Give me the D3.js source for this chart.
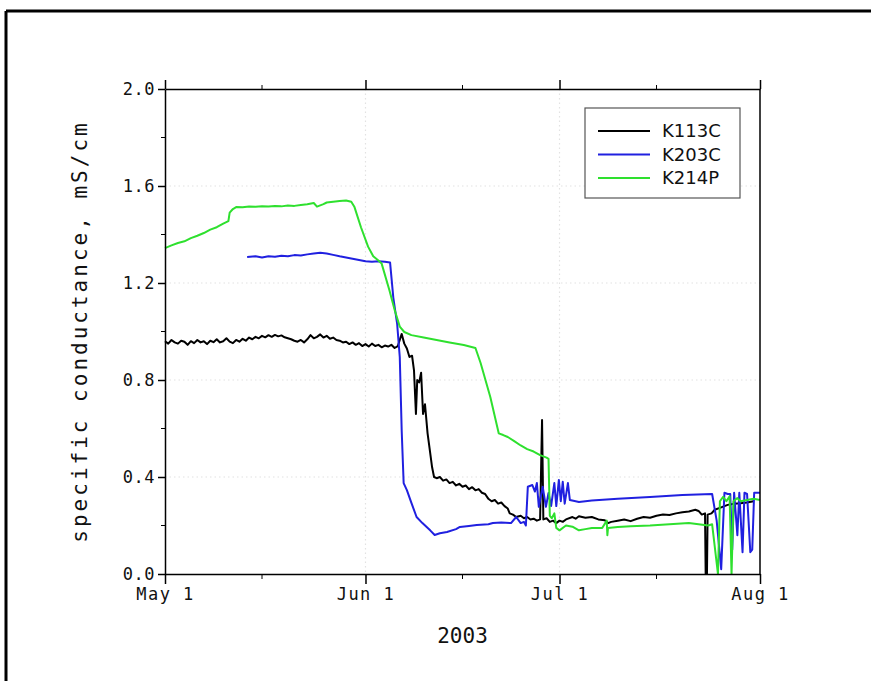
<!DOCTYPE html>
<html>
<head>
<meta charset="utf-8">
<script src="https://cdn.jsdelivr.net/npm/d3@7"></script>
<style>
  html, body { margin: 0; padding: 0; background: #fff; overflow: hidden; }
  svg { display: block; }
</style>
</head>
<body>
<svg id="chart" width="871" height="681"></svg>
<script>
// Specific conductance logger records, summer 2003.
// Each point: [days after May 1 (fractional), conductance in mS/cm]
const seriesNames = ["K113C", "K203C", "K214P"];
const seriesColors = ["#000000", "#2020e0", "#2ee02e"];

const k113c = [
  [0,0.96],[0.5,0.95],[1,0.965],[1.5,0.955],[2,0.95],[2.5,0.962],[3,0.958],[3.5,0.945],
  [4,0.96],[4.5,0.952],[5,0.965],[5.5,0.955],[6,0.96],[6.5,0.948],[7,0.962],[7.5,0.956],
  [8,0.968],[8.5,0.955],[9,0.96],[9.5,0.972],[10,0.958],[10.5,0.952],[11,0.965],[11.5,0.958],
  [12,0.97],[12.5,0.962],[13,0.975],[13.5,0.968],[14,0.978],[14.5,0.972],[15,0.982],[15.5,0.976],
  [16,0.985],[16.5,0.978],[17,0.986],[17.5,0.98],[18,0.984],[18.5,0.976],[19,0.972],[19.5,0.968],
  [20,0.962],[20.5,0.958],[21,0.965],[21.5,0.955],[22,0.968],[22.5,0.985],[23,0.972],[23.5,0.978],
  [24,0.988],[24.5,0.975],[25,0.982],[25.5,0.97],[26,0.975],[26.5,0.965],[27,0.962],[27.5,0.955],
  [28,0.958],[28.5,0.948],[29,0.955],[29.5,0.945],[30,0.952],[30.5,0.94],[31,0.948],[31.5,0.938],
  [32,0.95],[32.5,0.94],[33,0.945],[33.5,0.935],[34,0.942],[34.5,0.938],[35,0.945],[35.5,0.932],
  [36,0.94],[36.6,0.99],[37,0.95],[37.4,0.93],[37.8,0.895],[38.2,0.9],[38.5,0.84],[38.8,0.66],
  [39,0.8],[39.3,0.79],[39.6,0.83],[39.9,0.66],[40.2,0.7],[40.6,0.58],[40.9,0.52],[41.3,0.44],
  [41.6,0.4],[42,0.395],[42.5,0.4],[43,0.385],[43.5,0.39],[44,0.375],[44.5,0.38],[45,0.365],
  [45.5,0.372],[46,0.36],[46.5,0.365],[47,0.35],[47.5,0.358],[48,0.345],[48.5,0.35],[49,0.335],
  [49.5,0.33],[50,0.31],[50.5,0.3],[51,0.305],[51.5,0.29],[52,0.295],[52.5,0.28],[53,0.27],
  [53.3,0.25],[53.8,0.245],[54.3,0.235],[55,0.24],[55.5,0.23],[56,0.235],[56.5,0.225],[57,0.228],
  [57.5,0.22],[58,0.225],[58.3,0.635],[58.5,0.225],[59,0.23],[59.5,0.215],[60,0.22],[60.5,0.21],
  [61,0.22],[61.5,0.215],[62,0.225],[63,0.235],[63.5,0.228],[64,0.238],[65,0.232],[66,0.235],
  [67,0.225],[68,0.222],[68.5,0.21],[69,0.215],[70,0.22],[71,0.225],[72,0.218],[73,0.228],
  [74,0.235],[75,0.232],[76,0.24],[77,0.245],[78,0.243],[79,0.25],[80,0.255],[81,0.258],
  [82,0.265],[82.5,0.26],[83,0.245],[83.5,0.25],[83.6,0.0],[83.8,0.0],[83.9,0.245],[84.5,0.25],
  [85,0.265],[86,0.275],[87,0.285],[88,0.29],[89,0.292],[90,0.295],[91,0.3]
];

const k203c = [
  [12.7,1.307],[14,1.31],[15,1.305],[16,1.31],[17,1.308],[18,1.312],[19,1.31],[20,1.315],
  [21,1.313],[22,1.318],[23,1.322],[24,1.325],[25,1.322],[26,1.316],[27,1.31],[28,1.305],
  [29,1.3],[30,1.295],[31,1.29],[32,1.288],[33,1.29],[34,1.288],[34.8,1.285],[35.3,1.14],
  [35.9,1.03],[36.3,0.895],[36.6,0.59],[36.9,0.375],[37.4,0.346],[38.1,0.293],[38.9,0.235],
  [39.8,0.21],[41,0.18],[41.7,0.161],[42.5,0.168],[43.6,0.173],[45,0.185],[45.6,0.194],
  [47,0.198],[48.2,0.202],[50,0.205],[50.7,0.21],[52,0.212],[53.5,0.21],[54.3,0.235],[55,0.21],
  [55.5,0.215],[55.8,0.2],[56.1,0.36],[56.8,0.367],[57.2,0.34],[57.5,0.375],[57.8,0.277],
  [58.4,0.36],[58.9,0.277],[59.3,0.334],[59.7,0.28],[60.2,0.375],[60.5,0.28],[60.9,0.388],
  [61.2,0.3],[61.5,0.38],[61.8,0.29],[62.3,0.375],[62.6,0.305],[63.5,0.3],[64,0.297],
  [66,0.303],[70,0.31],[75,0.318],[80,0.326],[84.6,0.33],[85.3,0.22],[86,0.02],[86.5,0.335],
  [87,0.33],[87.4,0.33],[87.7,0.1],[88,0.335],[88.5,0.16],[88.8,0.335],[89.3,0.09],[89.6,0.335],
  [90,0.33],[90.5,0.09],[90.8,0.1],[91.1,0.335],[92,0.335]
];

const k214p = [
  [0,1.344],[1,1.355],[2,1.365],[3,1.372],[4,1.385],[5,1.395],[6,1.406],[7,1.42],
  [8,1.43],[9,1.445],[9.8,1.455],[10,1.49],[10.5,1.505],[11,1.513],[12,1.512],[13,1.515],
  [14,1.514],[15,1.516],[16,1.515],[17,1.518],[18,1.516],[19,1.52],[20,1.518],[21,1.522],
  [22,1.525],[23,1.53],[23.5,1.515],[24,1.52],[24.5,1.525],[25,1.532],[26,1.535],[27,1.538],
  [28,1.54],[28.8,1.535],[29.3,1.513],[30.3,1.43],[31.4,1.35],[32.2,1.31],[32.9,1.295],
  [33.5,1.28],[34.7,1.17],[35.5,1.09],[36.3,1.02],[37,0.998],[38.1,0.985],[40,0.975],
  [42,0.965],[44,0.955],[46.2,0.944],[47.4,0.936],[48,0.932],[48.8,0.87],[50.3,0.73],
  [51.6,0.58],[52.3,0.573],[53,0.565],[54,0.548],[55,0.53],[56,0.515],[57,0.505],[58,0.49],
  [59,0.48],[59.3,0.475],[59.5,0.24],[59.8,0.23],[60.2,0.25],[60.5,0.19],[61,0.18],[62,0.2],
  [63,0.195],[64,0.18],[65,0.185],[66,0.19],[67.6,0.19],[68.3,0.22],[68.4,0.16],[68.5,0.19],
  [70,0.194],[72,0.197],[75,0.2],[78,0.205],[81,0.21],[84,0.2],[84.6,0.205],[85.5,0.0],
  [85.8,0.3],[86.3,0.318],[86.8,0.3],[87.3,0.32],[87.6,0.0],[87.9,0.3],[88.5,0.313],[89,0.3],
  [90,0.305],[91,0.31],[92,0.305]
];

const seriesData = [k113c, k203c, k214p];

const yTicks = [0.0, 0.4, 0.8, 1.2, 1.6, 2.0];
const yMinorTicks = [0.2, 0.6, 1.0, 1.4, 1.8];
const xTickDates = ["2003-05-01", "2003-06-01", "2003-07-01", "2003-08-01"];
const xMinorDates = ["2003-05-16", "2003-06-16", "2003-07-16"];
const xTitle = "2003";
const yTitle = "specific conductance, mS/cm";

const startMs = Date.UTC(2003, 4, 1);
const toDate = d => new Date(startMs + d * 86400000);
const parseDay = d3.utcParse("%Y-%m-%d");

const svg = d3.select("#chart");
const margin = { left: 165, top: 89, right: 111, bottom: 107 };
const W = 871, H = 681;
const x0 = margin.left, x1 = W - margin.right;
const y0 = H - margin.bottom, y1 = margin.top;

const x = d3.scaleUtc()
  .domain([parseDay("2003-05-01"), parseDay("2003-08-01")])
  .range([x0, x1]);
const y = d3.scaleLinear().domain([0, 2]).range([y0, y1]);

// outer frame: top and left edges of the page border
svg.append("line").attr("x1", 6).attr("x2", W).attr("y1", 11).attr("y2", 11)
  .attr("stroke", "#000").attr("stroke-width", 3);
svg.append("line").attr("x1", 6).attr("x2", 6).attr("y1", 11).attr("y2", H)
  .attr("stroke", "#000").attr("stroke-width", 3);

// dotted grid
const grid = svg.append("g").attr("stroke", "#e2e2e2").attr("stroke-width", 1.2)
  .attr("stroke-dasharray", "1.5,3");
grid.selectAll("line.h").data(yTicks.filter(v => v > 0 && v < 2)).join("line")
  .attr("class", "h")
  .attr("x1", x0).attr("x2", x1).attr("y1", d => y(d)).attr("y2", d => y(d));
grid.selectAll("line.v").data(xTickDates.slice(1, 3).map(parseDay)).join("line")
  .attr("class", "v")
  .attr("x1", d => x(d)).attr("x2", d => x(d)).attr("y1", y1).attr("y2", y0);

// data lines
const line = d3.line()
  .x(d => x(toDate(d[0])))
  .y(d => y(d[1]));
const plot = svg.append("g");
seriesData.forEach((s, i) => {
  plot.append("path")
    .datum(s)
    .attr("fill", "none")
    .attr("stroke", seriesColors[i])
    .attr("stroke-width", 2)
    .attr("stroke-linejoin", "round")
    .attr("d", line);
});

const mono = "'DejaVu Sans Mono', monospace";

// bottom axis
const xAxis = d3.axisBottom(x)
  .tickValues(xTickDates.map(parseDay))
  .tickFormat(d3.utcFormat("%b %-d"))
  .tickSize(10).tickSizeOuter(0).tickPadding(4);
const gx = svg.append("g").attr("transform", `translate(0,${y0})`).call(xAxis);
gx.selectAll("text").attr("font-family", mono).attr("font-size", 17).attr("fill", "#111")
  .attr("letter-spacing", 1.5);
gx.append("g").selectAll("line").data(xMinorDates.map(parseDay)).join("line")
  .attr("x1", d => x(d)).attr("x2", d => x(d)).attr("y1", 0).attr("y2", 5).attr("stroke", "#000");

// top axis (mirrored ticks, no labels)
const xAxisTop = d3.axisTop(x)
  .tickValues(xTickDates.map(parseDay)).tickFormat("")
  .tickSize(9).tickSizeOuter(0);
const gxt = svg.append("g").attr("transform", `translate(0,${y1})`).call(xAxisTop);
gxt.append("g").selectAll("line").data(xMinorDates.map(parseDay)).join("line")
  .attr("x1", d => x(d)).attr("x2", d => x(d)).attr("y1", 0).attr("y2", -4).attr("stroke", "#000");

// left axis
const yAxis = d3.axisLeft(y)
  .tickValues(yTicks).tickFormat(d3.format(".1f"))
  .tickSize(7).tickSizeOuter(0).tickPadding(3);
const gy = svg.append("g").attr("transform", `translate(${x0},0)`).call(yAxis);
gy.selectAll("text").attr("font-family", mono).attr("font-size", 17).attr("fill", "#111")
  .attr("letter-spacing", 0.5);
gy.append("g").selectAll("line").data(yMinorTicks).join("line")
  .attr("x1", 0).attr("x2", -4).attr("y1", d => y(d)).attr("y2", d => y(d)).attr("stroke", "#000");

// right border
svg.append("line").attr("x1", x1).attr("x2", x1).attr("y1", y1).attr("y2", y0)
  .attr("stroke", "#000").attr("stroke-width", 1.5);

svg.selectAll(".domain").attr("stroke-width", 1.5);
svg.selectAll(".tick line").attr("stroke-width", 1.5);

// axis titles
svg.append("text")
  .attr("x", (x0 + x1) / 2).attr("y", 643)
  .attr("text-anchor", "middle")
  .attr("font-family", mono).attr("font-size", 21).attr("fill", "#111")
  .text(xTitle);
svg.append("text")
  .attr("transform", `translate(87,${(y0 + y1) / 2}) rotate(-90)`)
  .attr("text-anchor", "middle")
  .attr("font-family", mono).attr("font-size", 21).attr("fill", "#111")
  .attr("letter-spacing", 3)
  .text(yTitle);

// legend
const lg = svg.append("g").attr("transform", "translate(585,108)");
lg.append("rect").attr("width", 155).attr("height", 90)
  .attr("fill", "#fff").attr("stroke", "#555").attr("stroke-width", 1.2);
seriesNames.forEach((name, i) => {
  const ly = 23 + i * 23.5;
  lg.append("line").attr("x1", 13).attr("x2", 65).attr("y1", ly).attr("y2", ly)
    .attr("stroke", seriesColors[i]).attr("stroke-width", 2);
  lg.append("text").attr("x", 77).attr("y", ly + 6)
    .attr("font-family", "'DejaVu Sans', sans-serif").attr("font-size", 18).attr("fill", "#111")
    .text(name);
});
</script>
</body>
</html>
